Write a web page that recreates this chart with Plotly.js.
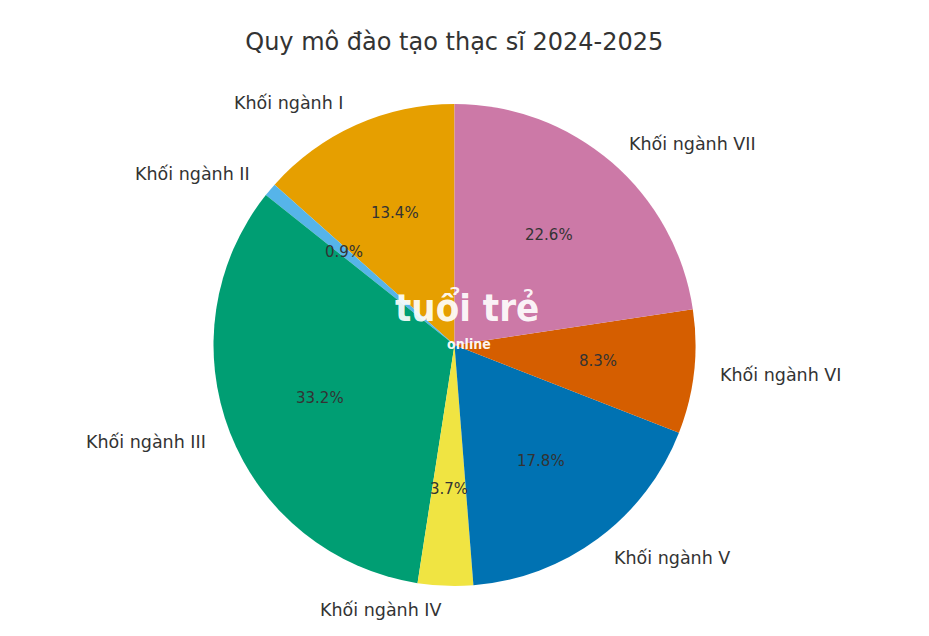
<!DOCTYPE html>
<html>
<head>
<meta charset="utf-8">
<script src="https://cdn.plot.ly/plotly-3.0.1.min.js"></script>
<style>html,body{margin:0;padding:0;background:#fff;}#chart{width:929px;height:636px;}</style>
</head>
<body>
<div id="chart"></div>
<script>
const titleText = "Quy mô đào tạo thạc sĩ 2024-2025";
const categories = ["Khối ngành I","Khối ngành II","Khối ngành III","Khối ngành IV","Khối ngành V","Khối ngành VI","Khối ngành VII"];
const values = [13.4, 0.9, 33.2, 3.7, 17.8, 8.3, 22.6];
const colors = ["#E69F00","#56B4E9","#009E73","#F0E442","#0072B2","#D55E00","#CC79A7"];

const W = 929, H = 636;
const M = {l: 0, r: 20, t: 104, b: 50};
const pw = W - M.l - M.r, ph = H - M.t - M.b;
const R = Math.min(pw, ph) / 2;
const cx = M.l + pw / 2, cy = M.t + ph / 2;
const toPx = px => (px - M.l) / pw;
const toPy = py => (M.t + ph - py) / ph;

const total = values.reduce((a, b) => a + b, 0);
const annotations = [];
let cum = 0;
values.forEach((v, i) => {
  const mid = 90 + (cum + v / 2) / total * 360;
  cum += v;
  const th = mid * Math.PI / 180;
  const c = Math.cos(th), s = Math.sin(th);
  annotations.push({
    x: toPx(cx + 1.1 * R * c), y: toPy(cy - 1.1 * R * s),
    xref: 'paper', yref: 'paper', showarrow: false,
    text: categories[i], xanchor: c > 0 ? 'left' : 'right', yanchor: 'middle',
    font: {family: 'DejaVu Sans', size: 17.5, color: '#333333'}
  });
  annotations.push({
    x: toPx(cx + 0.6 * R * c), y: toPy(cy - 0.6 * R * s),
    xref: 'paper', yref: 'paper', showarrow: false,
    text: (v / total * 100).toFixed(1) + '%', xanchor: 'center', yanchor: 'middle',
    font: {family: 'DejaVu Sans', size: 15, color: '#333333'}
  });
});
// watermark logo
annotations.push({
  x: toPx(cx + 12), y: toPy(cy - 13), xref: 'paper', yref: 'paper', showarrow: false,
  text: '<b>tuổi trẻ</b>', xanchor: 'center', yanchor: 'bottom',
  font: {family: 'DejaVu Sans Condensed', size: 38, color: 'rgba(255,255,255,0.93)'}
});
annotations.push({
  x: toPx(cx + 14), y: toPy(cy - 11), xref: 'paper', yref: 'paper', showarrow: false,
  text: '<b>online</b>', xanchor: 'center', yanchor: 'top',
  font: {family: 'DejaVu Sans Condensed', size: 14, color: 'rgba(255,255,255,0.95)'}
});

const trace = {
  type: 'pie', labels: categories, values: values, sort: false,
  direction: 'counterclockwise', rotation: -(values[0] / total * 360),
  marker: {colors: colors, line: {width: 0}},
  textinfo: 'none', hoverinfo: 'label+percent', showlegend: false
};
const layout = {
  width: W, height: H, margin: M,
  paper_bgcolor: '#ffffff',
  title: {text: titleText, x: 0.489, xanchor: 'center', y: 0.935, yanchor: 'middle',
          font: {family: 'DejaVu Sans', size: 24, color: '#333333'}},
  annotations: annotations, showlegend: false
};
Plotly.newPlot('chart', [trace], layout, {displayModeBar: false, staticPlot: true});
</script>
</body>
</html>
